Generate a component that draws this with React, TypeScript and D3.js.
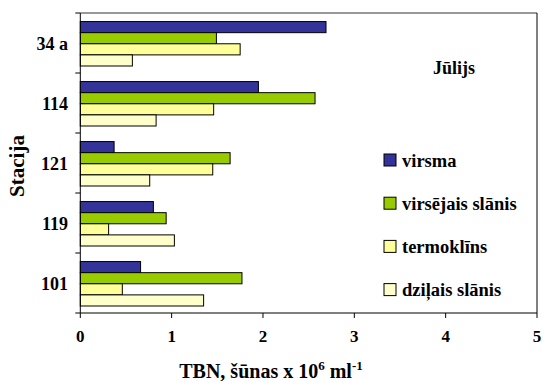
import React from "react";
import * as d3 from "d3";

const stations = ["34 a", "114", "121", "119", "101"];
const seriesNames = ["virsma", "virsējais slānis", "termoklīns", "dziļais slānis"];
const virsma = [2.69, 1.95, 0.37, 0.8, 0.66];
const virsejais = [1.49, 2.57, 1.64, 0.94, 1.77];
const termoklins = [1.75, 1.46, 1.45, 0.31, 0.46];
const dzilais = [0.57, 0.83, 0.76, 1.03, 1.35];
const colors = ["#333399", "#99CC00", "#FFFF99", "#FFFFCC"];
const xTicks = [0, 1, 2, 3, 4, 5];

const seriesValues = [virsma, virsejais, termoklins, dzilais];

const TS: React.CSSProperties = { fontFamily: "Liberation Serif", fontWeight: "bold" };

export default function App() {
  const W = 543, H = 381;
  const left = 80.3, right = 537, top = 13, bottom = 313;
  const x = d3.scaleLinear().domain([0, 5]).range([left, right]);
  const y0 = d3.scaleBand().domain(stations).range([top, bottom]).padding(0);
  const y1 = d3
    .scaleBand()
    .domain(seriesNames)
    .range([0, y0.bandwidth()])
    .paddingInner(0)
    .paddingOuter(0.7)
    .align(0.55);
  const boundaries = [...stations.map((s) => y0(s)!), bottom];

  return (
    <svg
      width={W}
      height={H}
      style={{ position: "absolute", left: 0, top: 0, background: "#fff" }}
    >
      {/* bars */}
      {stations.map((s, i) => (
        <g key={s} transform={`translate(0,${y0(s)})`}>
          {seriesNames.map((n, j) => (
            <rect
              key={n}
              x={x(0)}
              y={y1(n)}
              width={x(seriesValues[j][i]) - x(0)}
              height={y1.bandwidth()}
              fill={colors[j]}
              stroke="#000"
              strokeWidth={1}
            />
          ))}
        </g>
      ))}
      {/* frame */}
      <line x1={left} x2={right} y1={top} y2={top} stroke="#333" strokeWidth={1} />
      <line x1={right} x2={right} y1={top} y2={bottom} stroke="#000" strokeWidth={1} />
      {/* y axis */}
      <line x1={left} x2={left} y1={top} y2={bottom} stroke="#000" strokeWidth={1} />
      {boundaries.map((b, i) => (
        <line key={i} x1={left - 5} x2={left} y1={b} y2={b} stroke="#000" strokeWidth={1} />
      ))}
      {stations.map((s) => (
        <text
          key={s}
          x={68}
          y={y0(s)! + y0.bandwidth() / 2 + 6.5}
          textAnchor="end"
          fontSize={18}
          style={TS}
        >
          {s}
        </text>
      ))}
      {/* x axis */}
      <line x1={left} x2={right} y1={bottom} y2={bottom} stroke="#000" strokeWidth={1} />
      {xTicks.map((t) => (
        <g key={t}>
          <line x1={x(t)} x2={x(t)} y1={bottom} y2={bottom + 5} stroke="#000" strokeWidth={1} />
          <text x={x(t)} y={342} textAnchor="middle" fontSize={17} style={TS}>
            {t}
          </text>
        </g>
      ))}
      <text x={271} y={378} textAnchor="middle" fontSize={20} style={TS}>
        TBN, šūnas x 10
        <tspan dy={-8} fontSize={13}>6</tspan>
        <tspan dy={8}> ml</tspan>
        <tspan dy={-8} fontSize={13}>-1</tspan>
      </text>
      <text
        transform={`translate(24,166) rotate(-90)`}
        textAnchor="middle"
        fontSize={21}
        style={TS}
      >
        Stacija
      </text>
      {/* title */}
      <text x={454} y={74} textAnchor="middle" fontSize={18} style={TS}>
        Jūlijs
      </text>
      {/* legend */}
      {seriesNames.map((n, j) => {
        const cy = 160 + j * 43.2;
        return (
          <g key={n}>
            <rect x={384} y={cy - 6} width={12} height={12} fill={colors[j]} stroke="#000" strokeWidth={1} />
            <text x={402} y={cy + 6.5} fontSize={18.5} style={TS}>
              {n}
            </text>
          </g>
        );
      })}
    </svg>
  );
}
